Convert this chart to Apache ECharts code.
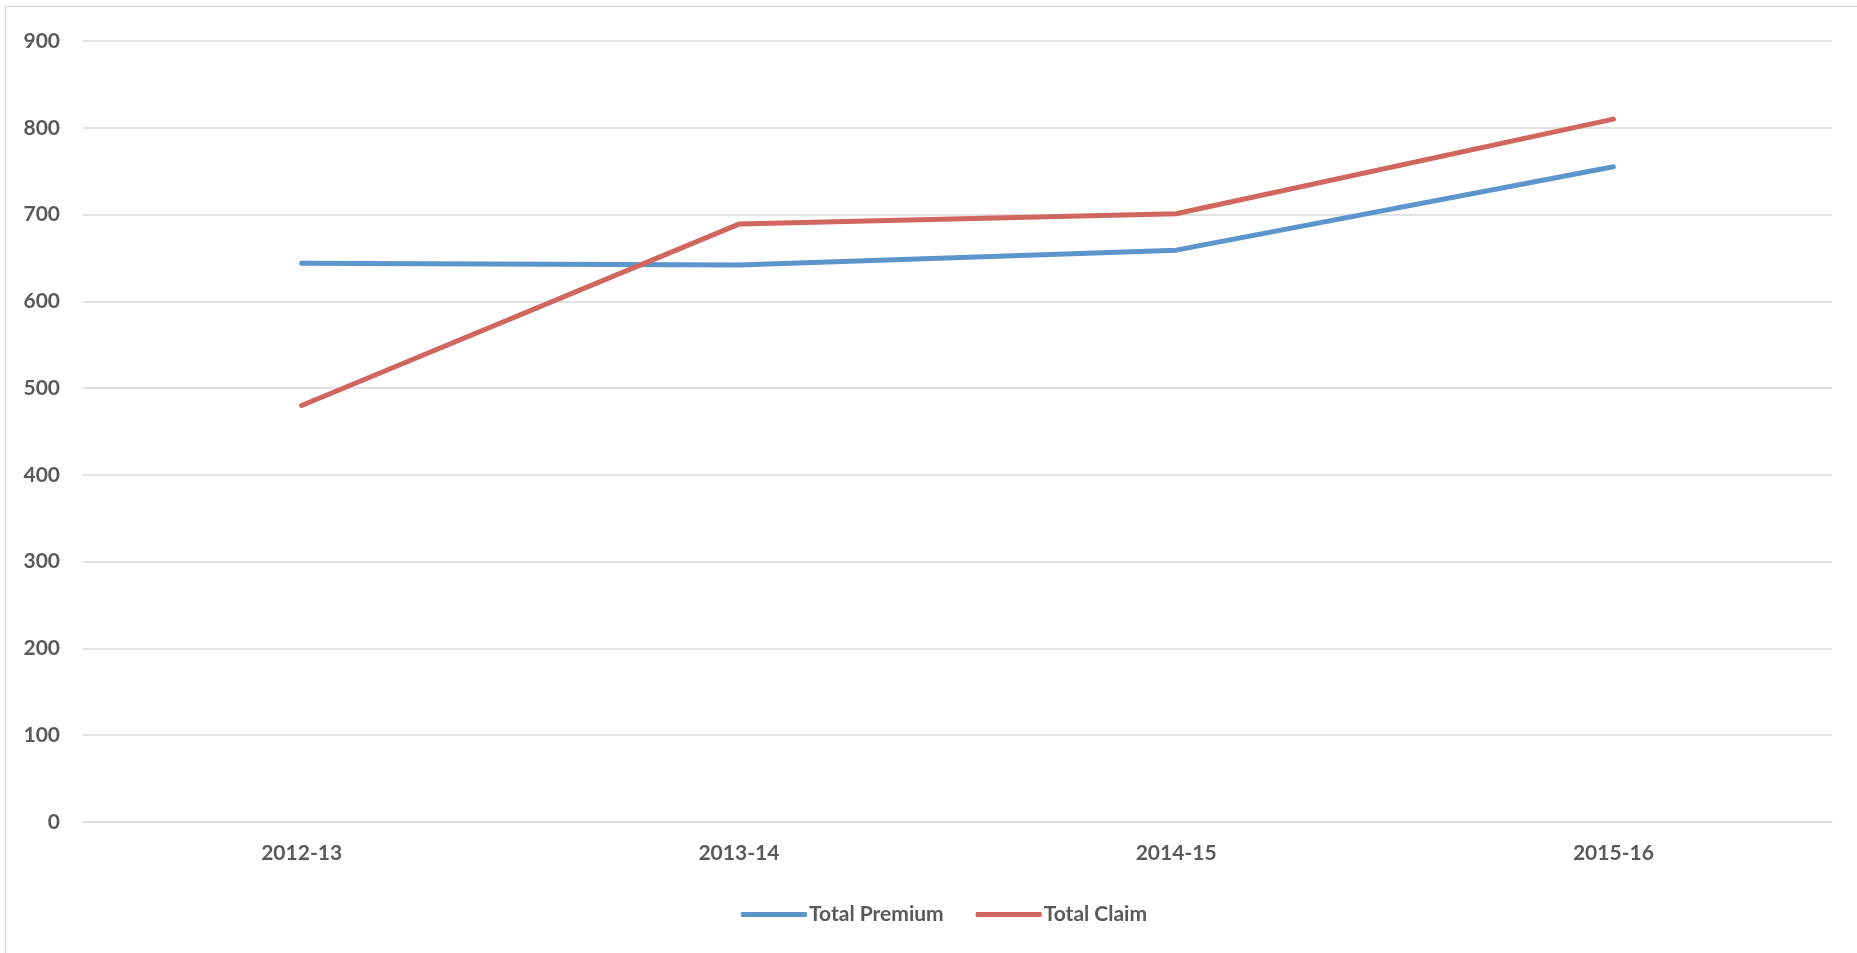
<!DOCTYPE html>
<html>
<head>
<meta charset="utf-8">
<script src="https://cdn.jsdelivr.net/npm/echarts@6/dist/echarts.min.js"></script>
<style>
html,body{margin:0;padding:0;background:#fff;}
#main{width:1857px;height:953px;}
</style>
</head>
<body>
<div id="main"></div>
<script>
const categories = ['2012-13', '2013-14', '2014-15', '2015-16'];
const totalPremium = [644, 642, 659, 755];
const totalClaim = [480, 689, 701, 810];
const yTicks = { min: 0, max: 900, interval: 100 };

const chart = echarts.init(document.getElementById('main'), null, { renderer: 'canvas' });
const fontFam = 'Lato, "Open Sans", sans-serif';
const textCol = '#595959';
chart.setOption({
  animation: false,
  backgroundColor: '#ffffff',
  graphic: [{
    type: 'rect',
    shape: { x: 5.5, y: 6.5, width: 1870, height: 970 },
    style: { fill: 'none', stroke: '#d9d9d9', lineWidth: 1.5 },
    silent: true
  }],
  grid: { left: 83, right: 25, top: 41, bottom: 131, containLabel: false },
  legend: {
    left: 736,
    top: 899,
    itemWidth: 66,
    itemHeight: 5,
    itemGap: 32,
    icon: 'roundRect',
    textStyle: { fontFamily: fontFam, fontWeight: 'bold', fontSize: 21, color: textCol, padding: [0, 0, 0, -3] },
    data: ['Total Premium', 'Total Claim']
  },
  xAxis: {
    type: 'category',
    data: categories,
    boundaryGap: true,
    axisLine: { show: true, lineStyle: { color: '#d9d9d9', width: 1.5 } },
    axisTick: { show: false },
    axisLabel: { margin: 21, fontFamily: fontFam, fontWeight: 'bold', fontSize: 21, color: textCol }
  },
  yAxis: {
    type: 'value',
    min: yTicks.min, max: yTicks.max, interval: yTicks.interval,
    axisLine: { show: false },
    axisTick: { show: false },
    splitLine: { lineStyle: { color: '#d9d9d9', width: 1.5 } },
    axisLabel: { margin: 23, fontFamily: fontFam, fontWeight: 'bold', fontSize: 21, color: textCol }
  },
  series: [
    {
      name: 'Total Premium', type: 'line', data: totalPremium,
      symbol: 'none', color: '#5b95cb',
      lineStyle: { width: 5, cap: 'round', join: 'round', color: '#5b95cb' }
    },
    {
      name: 'Total Claim', type: 'line', data: totalClaim,
      symbol: 'none', color: '#d0665d',
      lineStyle: { width: 5, cap: 'round', join: 'round', color: '#d0665d' }
    }
  ]
});
</script>
</body>
</html>
